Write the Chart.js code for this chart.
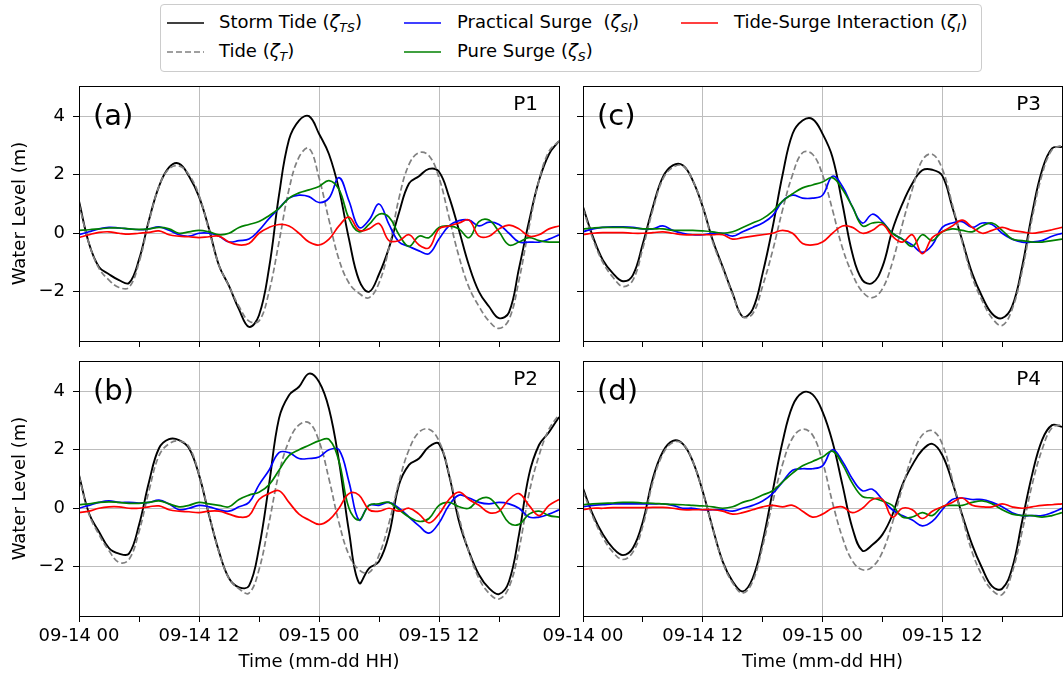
<!DOCTYPE html>
<html>
<head>
<meta charset="utf-8">
<script src="https://cdn.jsdelivr.net/npm/chart.js@4"></script>
<style>
  body { margin: 0; background: #fff; width: 1063px; height: 675px; overflow: hidden; position: relative;
         font-family: "DejaVu Sans", sans-serif; }
  canvas { position: absolute; }
  #legend { position: absolute; left: 160px; top: 4px; width: 820px; height: 66px;
            border: 1px solid #cccccc; border-radius: 4px; background: #fff; }
  .lg-item { position: absolute; font-size: 18px; line-height: 22px; white-space: nowrap; color: #000; }
  .lg-item sub { font-size: 12.5px; vertical-align: -4px; line-height: 0; }
  .lg-swatch { position: absolute; }
</style>
</head>
<body>
<div id="legend"></div>
<canvas id="pa" width="570" height="280" style="left:0;top:70px"></canvas>
<canvas id="pc" width="533" height="280" style="left:530px;top:70px"></canvas>
<canvas id="pb" width="570" height="330" style="left:0;top:345px"></canvas>
<canvas id="pd" width="533" height="330" style="left:530px;top:345px"></canvas>
<script>
// hours since 09-14 00
const hours = [0,1,2,3,4,5,6,7,8,9,10,11,12,13,14,15,16,17,18,19,20,21,22,23,24,
               25,26,27,28,29,30,31,32,33,34,35,36,37,38,39,40,41,42,43,44,45,46,47,48];
const tickHours = [0, 12, 24, 36];
const tickLabels = ['09-14 00', '09-14 12', '09-15 00', '09-15 12'];

const seriesLabels = [
  'Storm Tide (<i>ζ</i><sub><i>TS</i></sub>)',
  'Tide (<i>ζ</i><sub><i>T</i></sub>)',
  'Practical Surge&nbsp; (<i>ζ</i><sub><i>SI</i></sub>)',
  'Pure Surge (<i>ζ</i><sub><i>S</i></sub>)',
  'Tide-Surge Interaction (<i>ζ</i><sub><i>I</i></sub>)'
];
const seriesColors = ['#000000', '#808080', '#0000ff', '#008000', '#ff0000'];

// P1
const stormA = [1.1,-0.35,-1.15,-1.4,-1.6,-1.7,-0.9,0.45,1.6,2.25,2.38,1.95,1.25,0.15,-1.1,-1.8,-2.6,-3.2,-2.8,-1.2,1.3,3.2,3.85,4.0,3.4,2.7,1.5,-0.2,-1.6,-2.0,-1.4,-0.5,0.7,1.7,1.95,2.2,2.1,1.25,0.1,-1.1,-2.0,-2.5,-2.9,-2.7,-1.2,0.4,1.8,2.7,3.15];
const tideA  = [1.0,-0.35,-1.2,-1.6,-1.85,-1.85,-1.0,0.4,1.6,2.2,2.3,2.0,1.3,0.1,-1.1,-1.8,-2.5,-3.0,-3.0,-2.0,-0.3,1.5,2.6,2.9,1.9,0.45,-0.9,-1.7,-2.05,-2.2,-1.7,-0.5,1.2,2.35,2.75,2.65,1.9,0.55,-0.8,-1.85,-2.5,-3.0,-3.25,-2.95,-1.6,0.2,1.8,2.8,3.15];
const practA = [-0.05,0.05,0.15,0.2,0.18,0.15,0.12,0.15,0.22,0.1,-0.05,-0.1,0.0,0.0,-0.1,-0.3,-0.25,-0.2,0.1,0.5,0.85,1.2,1.3,1.25,1.05,1.2,1.9,1.1,0.2,0.45,1.0,0.3,-0.3,-0.45,-0.6,-0.7,-0.2,0.25,0.43,0.45,0.25,0.38,0.3,0.0,-0.3,-0.3,-0.3,-0.2,-0.05];
const pureA  = [0.1,0.12,0.15,0.18,0.18,0.15,0.13,0.15,0.2,0.15,0.0,0.05,0.1,0.05,-0.05,0.0,0.2,0.3,0.4,0.6,0.85,1.2,1.38,1.48,1.6,1.8,1.5,0.5,0.05,0.3,0.65,0.55,-0.05,-0.45,-0.1,-0.15,0.2,0.25,0.15,-0.15,0.4,0.45,0.05,-0.4,-0.3,-0.15,-0.25,-0.3,-0.3];
const interA = [-0.15,-0.05,0.03,0.05,0.0,-0.03,0.0,0.03,0.08,-0.05,-0.1,-0.12,-0.15,-0.12,-0.1,-0.3,-0.4,-0.35,0.0,0.2,0.3,0.25,0.0,-0.3,-0.4,-0.2,0.25,0.55,0.1,0.15,0.33,-0.25,-0.25,-0.05,-0.4,-0.5,0.15,0.25,0.35,0.45,-0.1,-0.1,0.15,0.28,0.15,-0.1,-0.05,0.15,0.25];

// P2
const stormB = [1.14,-0.17,-0.8,-1.36,-1.55,-1.55,-0.57,0.9,2.05,2.36,2.33,2.05,1.14,-0.23,-1.48,-2.39,-2.7,-2.65,-1.36,0.8,3.07,3.86,4.15,4.6,4.32,3.4,1.6,-0.8,-2.55,-2.05,-1.82,-0.9,0.8,1.48,1.7,2.1,2.2,1.14,-0.45,-1.48,-2.27,-2.73,-2.93,-2.5,-0.9,1.14,2.16,2.6,3.12];
const tideB  = [1.1,-0.2,-0.9,-1.45,-1.85,-1.75,-0.8,0.6,1.8,2.2,2.3,2.1,1.15,-0.2,-1.5,-2.4,-2.75,-2.9,-2.1,-0.5,1.2,2.3,2.85,2.92,2.3,1.0,-0.5,-1.6,-2.1,-2.2,-1.6,-0.5,0.9,2.0,2.6,2.7,2.3,1.2,-0.3,-1.5,-2.4,-2.9,-3.1,-2.7,-1.4,0.5,1.8,2.7,3.2];
const practB = [0.0,0.1,0.2,0.25,0.2,0.2,0.18,0.2,0.28,0.15,-0.05,0.0,0.1,0.05,-0.05,-0.1,0.05,0.2,0.8,1.3,1.9,1.9,1.7,1.7,1.75,2.0,2.0,0.9,-0.4,0.1,0.1,0.2,0.0,-0.3,-0.6,-0.85,-0.5,0.1,0.45,0.35,0.2,0.15,0.2,0.15,0.0,-0.3,-0.3,-0.2,-0.05];
const pureB  = [0.12,0.15,0.2,0.22,0.2,0.17,0.17,0.2,0.25,0.15,0.05,0.1,0.2,0.15,0.1,0.05,0.3,0.45,0.55,0.8,1.3,1.8,2.0,2.15,2.3,2.35,1.6,0.0,-0.4,0.1,0.15,0.2,-0.05,-0.3,-0.45,-0.35,0.1,0.2,0.05,0.0,0.3,0.35,0.0,-0.5,-0.55,-0.2,-0.1,-0.25,-0.3];
const interB = [-0.15,-0.1,0.0,0.05,0.05,0.0,0.0,0.05,0.08,-0.05,-0.1,-0.12,-0.15,-0.1,-0.1,-0.2,-0.3,-0.25,0.3,0.5,0.6,0.2,-0.2,-0.4,-0.55,-0.4,0.0,0.5,0.45,-0.05,-0.1,0.0,-0.1,0.0,-0.2,-0.5,-0.2,0.3,0.55,0.3,0.1,-0.15,-0.1,0.3,0.5,0.1,-0.25,0.1,0.3];

// P3
const stormC = [0.9,-0.12,-0.92,-1.37,-1.64,-1.43,-0.35,0.9,1.92,2.32,2.32,1.8,0.9,-0.24,-1.15,-2.06,-2.85,-2.6,-1.37,0.2,2.0,3.4,3.85,3.9,3.4,2.6,1.0,-0.7,-1.6,-1.7,-1.15,0.1,1.0,1.7,2.15,2.17,1.97,0.9,-0.24,-1.37,-2.17,-2.75,-2.9,-2.5,-1.15,0.67,2.15,2.9,2.95];
const tideC  = [0.85,-0.2,-1.0,-1.5,-1.82,-1.6,-0.5,0.8,1.85,2.25,2.3,1.8,0.9,-0.3,-1.2,-2.1,-2.85,-2.75,-1.8,-0.6,0.8,2.0,2.75,2.7,2.0,0.8,-0.5,-1.4,-2.0,-2.2,-1.9,-1.0,0.3,1.5,2.5,2.7,2.2,1.0,-0.3,-1.5,-2.3,-2.9,-3.15,-2.6,-1.3,0.5,2.0,2.85,3.0];
const practC = [0.05,0.15,0.2,0.22,0.22,0.2,0.15,0.15,0.25,0.1,0.0,-0.05,-0.05,0.0,0.0,-0.1,0.05,0.2,0.35,0.6,1.1,1.3,1.2,1.2,1.3,1.95,1.6,0.9,0.35,0.65,0.4,0.0,-0.2,-0.4,-0.65,-0.4,0.2,0.35,0.4,0.2,0.35,0.3,0.0,-0.2,-0.3,-0.3,-0.25,-0.1,0.0];
const pureC  = [0.15,0.18,0.2,0.2,0.2,0.18,0.15,0.15,0.15,0.1,0.1,0.1,0.08,0.05,0.0,0.05,0.2,0.35,0.5,0.75,1.1,1.35,1.55,1.65,1.75,1.9,1.5,0.9,0.25,0.35,0.35,0.0,-0.2,-0.45,-0.05,-0.25,0.05,0.15,0.1,0.05,0.25,0.35,0.1,-0.2,-0.25,-0.3,-0.3,-0.25,-0.2];
const interC = [-0.05,0.0,0.02,0.02,0.02,0.0,0.0,0.02,0.05,0.0,-0.05,-0.05,-0.05,-0.05,-0.05,-0.2,-0.15,-0.1,-0.05,0.0,0.1,0.0,-0.35,-0.4,-0.3,0.0,0.25,0.2,0.0,0.1,0.3,-0.1,-0.3,-0.05,-0.7,-0.15,0.05,0.25,0.45,0.2,0.0,0.1,0.2,0.1,0.05,0.0,0.05,0.12,0.2];

// P4
const stormD = [0.68,-0.23,-0.9,-1.36,-1.6,-1.36,-0.45,1.02,1.93,2.3,2.2,1.6,0.57,-0.68,-1.82,-2.5,-2.84,-2.39,-1.14,0.57,2.27,3.5,3.95,3.89,3.3,2.27,0.8,-0.68,-1.45,-1.25,-0.9,-0.23,0.8,1.48,1.99,2.2,1.82,0.9,-0.23,-1.25,-2.05,-2.67,-2.75,-2.05,-0.45,1.14,2.33,2.84,2.78];
const tideD  = [0.6,-0.3,-1.0,-1.5,-1.75,-1.5,-0.6,0.9,1.85,2.25,2.2,1.6,0.55,-0.7,-1.85,-2.55,-2.9,-2.5,-1.3,0.2,1.5,2.4,2.7,2.5,1.6,0.2,-1.0,-1.8,-2.1,-2.0,-1.5,-0.5,0.7,1.8,2.5,2.65,2.2,1.0,-0.3,-1.5,-2.3,-2.8,-2.95,-2.2,-0.8,0.8,2.0,2.75,2.85];
const practD = [0.05,0.1,0.12,0.15,0.15,0.15,0.15,0.15,0.15,0.1,0.0,0.0,-0.05,-0.05,-0.05,-0.1,0.0,0.1,0.25,0.5,0.9,1.3,1.35,1.35,1.45,2.0,1.6,1.0,0.6,0.65,0.3,-0.05,-0.25,-0.4,-0.6,-0.45,-0.05,0.3,0.35,0.3,0.3,0.2,0.05,-0.15,-0.25,-0.25,-0.25,-0.15,0.0];
const pureD  = [0.12,0.15,0.17,0.18,0.2,0.2,0.18,0.17,0.15,0.13,0.12,0.1,0.08,0.05,0.0,0.05,0.2,0.3,0.45,0.6,0.9,1.2,1.45,1.6,1.75,1.95,1.5,0.85,0.4,0.35,0.25,0.1,-0.3,-0.3,-0.15,-0.25,0.05,0.1,0.1,0.2,0.25,0.15,-0.05,-0.2,-0.25,-0.25,-0.3,-0.25,-0.15];
const interD = [-0.05,0.0,0.0,0.02,0.02,0.02,0.02,0.03,0.03,0.0,-0.05,-0.05,-0.05,-0.05,-0.1,-0.2,-0.15,-0.05,0.05,0.1,0.05,0.1,-0.1,-0.3,-0.2,0.0,0.05,-0.15,0.0,0.3,0.3,-0.3,0.0,-0.05,-0.35,-0.1,0.05,0.2,0.35,0.1,0.05,0.05,0.15,0.05,0.0,0.05,0.1,0.12,0.15];

const yMin = -3.68, yMax = 5.03;

Chart.defaults.font.family = '"DejaVu Sans", sans-serif';
Chart.defaults.color = '#000';

// legend (3 columns, filled column by column)
const legendSlots = [[6, 58, 18], [6, 58, 47], [243, 296, 18], [243, 296, 47], [520, 573, 18]];
const legendBox = document.getElementById('legend');
seriesLabels.forEach((label, i) => {
  const [sx, tx, cy] = legendSlots[i];
  const dash = i === 1 ? ' stroke-dasharray="6 3"' : '';
  legendBox.insertAdjacentHTML('beforeend',
    `<svg class="lg-swatch" width="37" height="4" style="left:${sx}px;top:${cy - 2}px">` +
    `<line x1="0" y1="2" x2="37" y2="2" stroke="${seriesColors[i]}" stroke-width="1.7"${dash}/></svg>` +
    `<div class="lg-item" style="left:${tx}px;top:${cy - 12}px">${label}</div>`);
});

// box around each axes + the (a)/P1 tags
const framePlugin = {
  id: 'frame',
  afterDraw(chart, args, opts) {
    const {ctx, chartArea: a} = chart;
    ctx.save();
    ctx.strokeStyle = '#000';
    ctx.lineWidth = 1;
    ctx.strokeRect(Math.round(a.left) + 0.5, Math.round(a.top) + 0.5,
                   Math.round(a.right - a.left), Math.round(a.bottom - a.top));
    ctx.fillStyle = '#000';
    ctx.textBaseline = 'middle';
    ctx.font = '29px "DejaVu Sans"';
    ctx.textAlign = 'left';
    ctx.fillText(opts.tag, a.left + 14, a.top + 31);
    ctx.font = '20px "DejaVu Sans"';
    ctx.textAlign = 'right';
    ctx.fillText(opts.site, a.right - 21, a.top + 19);
    ctx.restore();
  }
};

function makePanel(id, tag, site, series, opts) {
  const datasets = series.map((vals, i) => ({
    data: hours.map((h, k) => ({x: h, y: vals[k]})),
    borderColor: seriesColors[i],
    borderWidth: i === 0 ? 1.9 : 1.7,
    borderDash: i === 1 ? [6, 3] : [],
    pointRadius: 0,
    tension: 0.4,
    order: series.length - i
  }));
  return new Chart(document.getElementById(id), {
    type: 'line',
    data: {datasets},
    plugins: [framePlugin],
    options: {
      responsive: false,
      animation: false,
      layout: {autoPadding: false, padding: {top: 16, right: opts.right, left: 0, bottom: 0}},
      plugins: {legend: {display: false}, tooltip: {enabled: false}, frame: {tag, site}},
      scales: {
        x: {
          type: 'linear', min: 0, max: 48,
          afterBuildTicks: s => { s.ticks = [0, 6, 12, 18, 24, 30, 36, 42].map(v => ({value: v})); },
          afterFit: s => { s.height = opts.xHeight; s.paddingLeft = s.paddingRight = 0; },
          border: {display: false},
          grid: {
            color: c => (c.tick && c.tick.value % 12 === 0 && c.tick.value > 0) ? '#bdbdbd' : 'rgba(0,0,0,0)',
            tickColor: '#000', tickLength: 6, lineWidth: 1
          },
          ticks: {
            autoSkip: false, maxRotation: 0, padding: 4, font: {size: 18},
            callback: v => opts.xLabels ? (tickLabels[tickHours.indexOf(v)] || '') : ''
          },
          title: {display: opts.xLabels, text: 'Time (mm-dd HH)', font: {size: 18}, padding: {top: 0, bottom: 2}}
        },
        y: {
          min: yMin, max: yMax,
          afterBuildTicks: s => { s.ticks = [-2, 0, 2, 4].map(v => ({value: v})); },
          afterFit: s => { s.width = opts.yWidth; s.paddingTop = s.paddingBottom = 0; },
          border: {display: false},
          grid: {color: '#bdbdbd', tickColor: '#000', tickLength: 6, lineWidth: 1},
          ticks: {
            padding: 8, font: {size: 18},
            callback: v => opts.yLabels ? (v < 0 ? '\u2212' + Math.abs(v) : String(v)) : ''
          },
          title: {display: opts.yLabels, text: 'Water Level (m)', font: {size: 18}, padding: {top: 10, bottom: 0}}
        }
      }
    }
  });
}

makePanel('pa', '(a)', 'P1', [stormA, tideA, practA, pureA, interA],
          {right: 11, xHeight: 9, yWidth: 79, xLabels: false, yLabels: true});
makePanel('pc', '(c)', 'P3', [stormC, tideC, practC, pureC, interC],
          {right: 1, xHeight: 9, yWidth: 53, xLabels: false, yLabels: false});
makePanel('pb', '(b)', 'P2', [stormB, tideB, practB, pureB, interB],
          {right: 11, xHeight: 59, yWidth: 79, xLabels: true, yLabels: true});
makePanel('pd', '(d)', 'P4', [stormD, tideD, practD, pureD, interD],
          {right: 1, xHeight: 59, yWidth: 53, xLabels: true, yLabels: false});
</script>
</body>
</html>
